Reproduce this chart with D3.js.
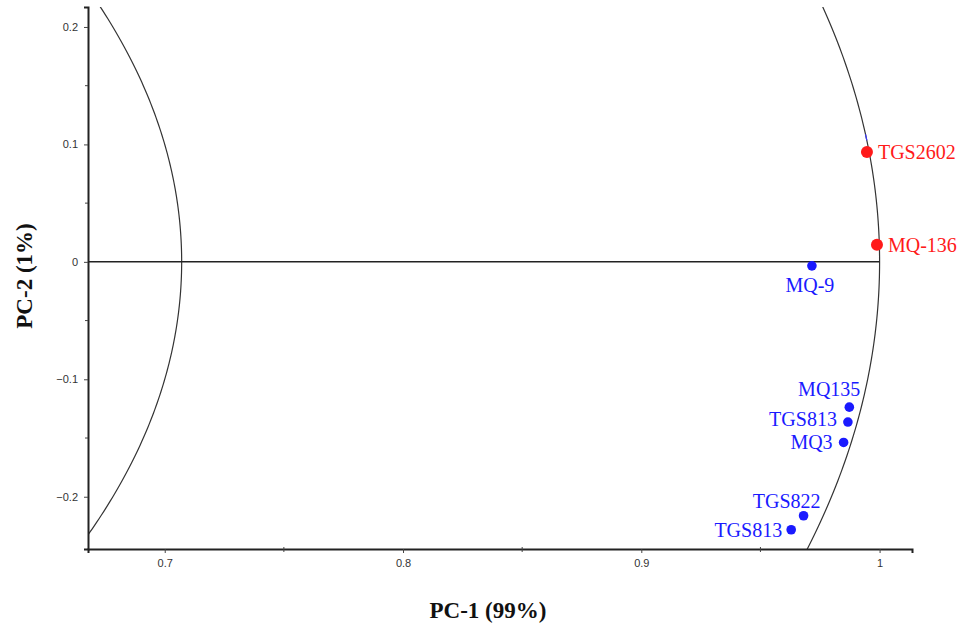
<!DOCTYPE html>
<html>
<head>
<meta charset="utf-8">
<script src="https://cdn.jsdelivr.net/npm/d3@7"></script>
<style>
  html, body { margin: 0; padding: 0; background: #fff; }
  svg { display: block; }
</style>
</head>
<body>
<svg id="chart" width="978" height="629"></svg>
<script>
// Correlation loadings of the gas sensors on PC-1 / PC-2
const sensors   = ["TGS2602", "MQ-136", "MQ-9", "MQ135", "TGS813", "MQ3", "TGS822", "TGS813"];
const pc1Values = [0.9947, 0.9989, 0.9716, 0.9873, 0.9867, 0.9849, 0.9681, 0.9629];
const pc2Values = [0.0936, 0.0145, -0.0034, -0.1237, -0.1364, -0.1538, -0.2162, -0.2281];
const groups    = ["red", "red", "blue", "blue", "blue", "blue", "blue", "blue"];

const xTicks = [0.7, 0.8, 0.9, 1];
const yTicks = [-0.2, -0.1, 0, 0.1, 0.2];
const xMinorTicks = [0.75, 0.85, 0.95];
const yMinorTicks = [-0.15, -0.05, 0.05, 0.15];

// explained-variance circles: 50 % and 100 %
const circleRadii = [Math.sqrt(0.5), 1];

const colors = { red: "#ff1a1a", blue: "#1a1aff" };

// label placement relative to each marker
const labelPlacement = [
  { dx: 11, dy: 7, anchor: "start" },
  { dx: 11, dy: 7, anchor: "start" },
  { dx: -2, dy: 26, anchor: "middle" },
  { dx: 11, dy: -11, anchor: "end" },
  { dx: -11, dy: 4, anchor: "end" },
  { dx: -11, dy: 7, anchor: "end" },
  { dx: 17, dy: -8, anchor: "end" },
  { dx: -9, dy: 7, anchor: "end" }
];

const svg = d3.select("#chart");
const margin = { left: 88, right: 66, top: 7, bottom: 80 };
const W = 978, H = 629;

const x = d3.scaleLinear().domain([0.6678, 1.0136]).range([margin.left, W - margin.right]);
const y = d3.scaleLinear().domain([-0.2445, 0.217]).range([H - margin.bottom, margin.top]);

const plot = svg.append("g");
const clipId = "plot-clip";
svg.append("defs").append("clipPath").attr("id", clipId)
  .append("rect")
  .attr("x", x.range()[0]).attr("y", y.range()[1])
  .attr("width", x.range()[1] - x.range()[0])
  .attr("height", y.range()[0] - y.range()[1]);

// circles drawn in data space (axes are not equally scaled)
const angles = d3.range(0, 361, 0.25).map(a => a * Math.PI / 180);
const circleLine = d3.line().x(d => x(d[0])).y(d => y(d[1]));
const circles = plot.append("g").attr("clip-path", `url(#${clipId})`);
circleRadii.forEach(r => {
  circles.append("path")
    .attr("d", circleLine(angles.map(a => [r * Math.cos(a), r * Math.sin(a)])))
    .attr("fill", "none")
    .attr("stroke", "#333")
    .attr("stroke-width", 1.2);
});

// short blue stroke on the outer circle above TGS2602
const leaderAngles = d3.range(0.1035, 0.1085, 0.0005).map(v => Math.asin(v));
circles.append("path")
  .attr("d", circleLine(leaderAngles.map(a => [Math.cos(a), Math.sin(a)])))
  .attr("fill", "none").attr("stroke", "#3b3bff").attr("stroke-width", 1.2);

// horizontal zero line up to the unit circle
plot.append("line")
  .attr("x1", x.range()[0]).attr("x2", x(1))
  .attr("y1", y(0)).attr("y2", y(0))
  .attr("stroke", "#222").attr("stroke-width", 1.5);

// axes
const xAxis = d3.axisBottom(x).tickValues(xTicks).tickFormat(d3.format("")).tickSize(4).tickPadding(6);
const yAxis = d3.axisLeft(y).tickValues(yTicks).tickFormat(d => d === 0 ? "0" : d3.format("")(d)).tickSize(4).tickPadding(6);

const gx = svg.append("g").attr("transform", `translate(0,${y.range()[0]})`).call(xAxis);
const gy = svg.append("g").attr("transform", `translate(${x.range()[0]},0)`).call(yAxis);

[gx, gy].forEach(g => {
  g.select(".domain").attr("stroke", "#222").attr("stroke-width", 2);
  g.selectAll(".tick line").attr("stroke", "#444").attr("stroke-width", 1);
  g.selectAll(".tick text")
    .attr("fill", "#333")
    .style("font-family", "Arial, 'Liberation Sans', sans-serif")
    .style("font-size", "11px");
});

gx.selectAll(".minor").data(xMinorTicks).enter().append("line")
  .attr("x1", d => x(d)).attr("x2", d => x(d))
  .attr("y1", -2).attr("y2", 3).attr("stroke", "#444");
gy.selectAll(".minor").data(yMinorTicks).enter().append("line")
  .attr("y1", d => y(d)).attr("y2", d => y(d))
  .attr("x1", -3).attr("x2", 0).attr("stroke", "#444");

// markers and labels
const pts = sensors.map((s, i) => ({ name: s, px: pc1Values[i], py: pc2Values[i], group: groups[i], lab: labelPlacement[i] }));

const marks = plot.append("g");
marks.selectAll("circle").data(pts).enter().append("circle")
  .attr("cx", d => x(d.px)).attr("cy", d => y(d.py))
  .attr("r", d => d.group === "red" ? 6 : 4.8)
  .attr("fill", d => colors[d.group]);

marks.selectAll("text").data(pts).enter().append("text")
  .attr("x", d => x(d.px) + d.lab.dx)
  .attr("y", d => y(d.py) + d.lab.dy)
  .attr("text-anchor", d => d.lab.anchor)
  .attr("fill", d => colors[d.group])
  .style("font-family", "'Liberation Serif', 'Times New Roman', serif")
  .style("font-size", "20px")
  .text(d => d.name);

// axis titles
svg.append("text")
  .attr("x", 488).attr("y", 618)
  .attr("text-anchor", "middle")
  .style("font-family", "'Liberation Serif', 'Times New Roman', serif")
  .style("font-weight", "bold").style("font-size", "23px")
  .attr("fill", "#111")
  .text("PC-1 (99%)");

svg.append("text")
  .attr("transform", "translate(32,276) rotate(-90)")
  .attr("text-anchor", "middle")
  .style("font-family", "'Liberation Serif', 'Times New Roman', serif")
  .style("font-weight", "bold").style("font-size", "23px")
  .attr("fill", "#111")
  .text("PC-2 (1%)");
</script>
</body>
</html>
